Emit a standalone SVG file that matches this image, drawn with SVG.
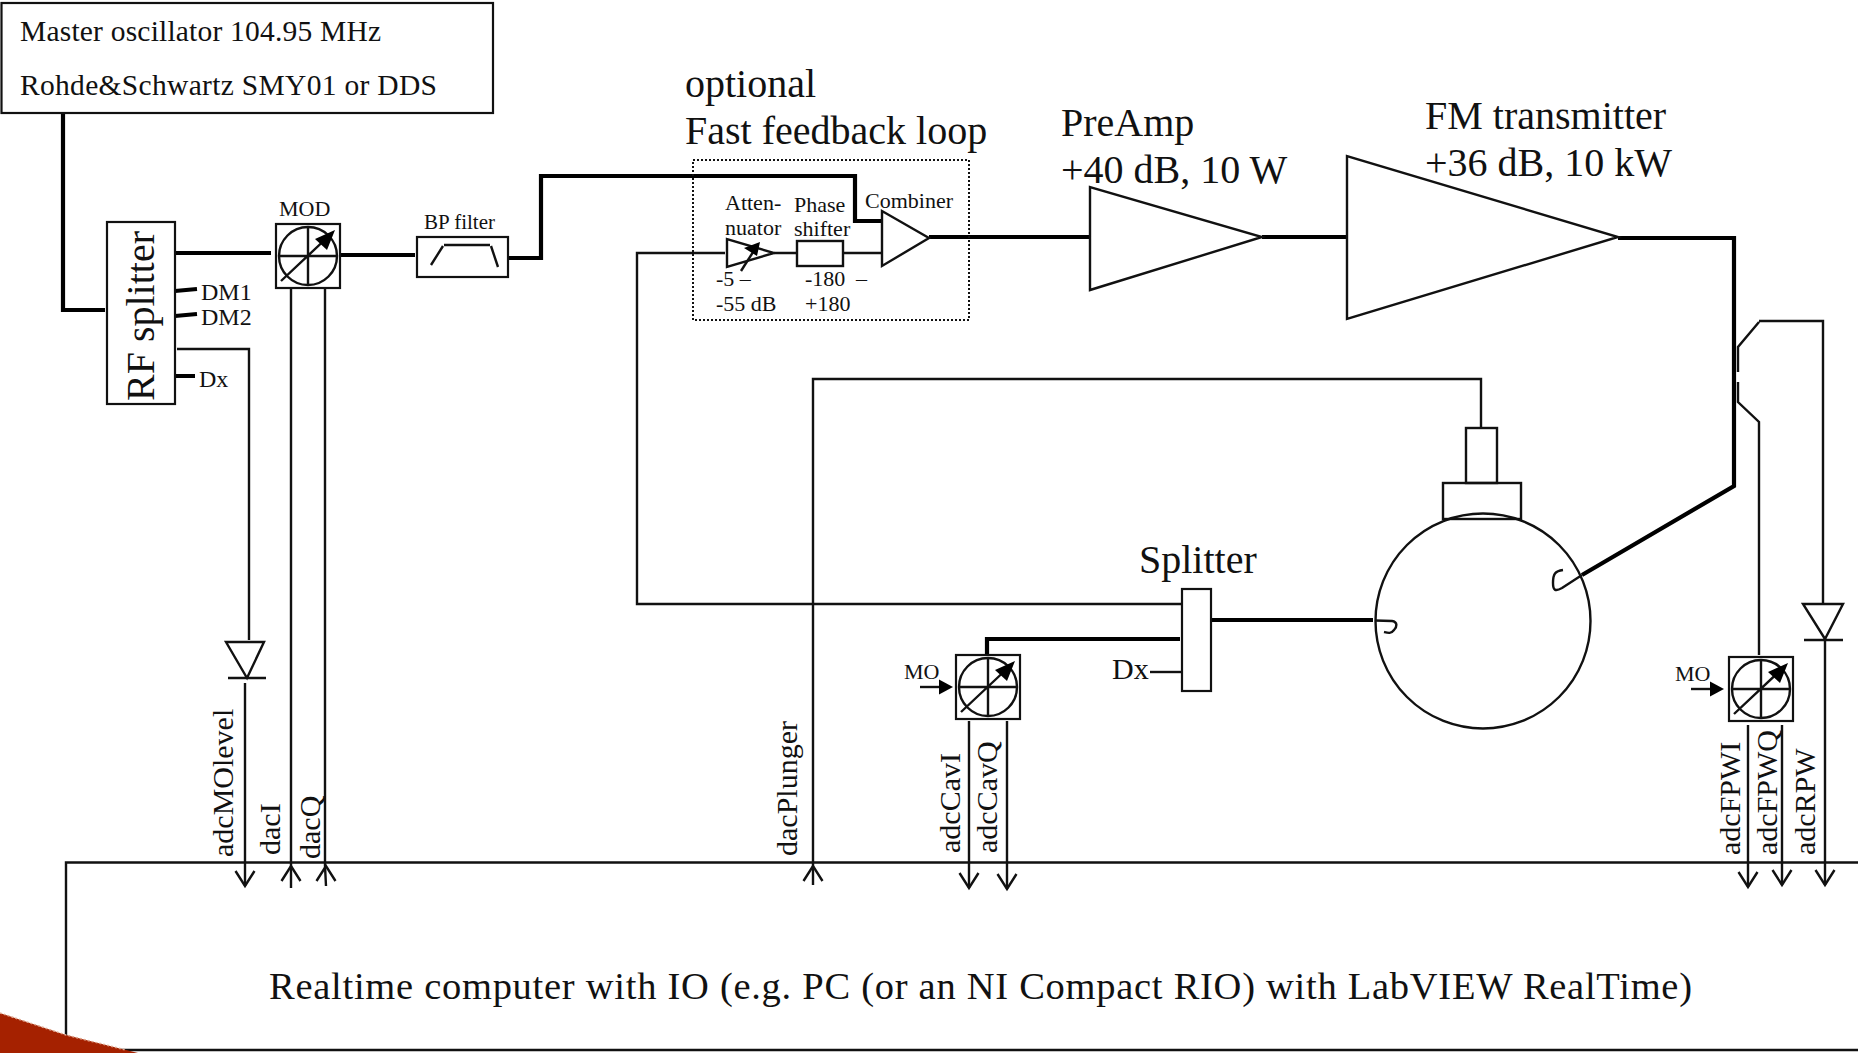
<svg xmlns="http://www.w3.org/2000/svg" width="1858" height="1053" viewBox="0 0 1858 1053">
<style>
text{font-family:"Liberation Serif","Times New Roman",serif;fill:#111}
.s{font-size:22px}.m{font-size:30px}.l{font-size:40px}.xs{font-size:21px}.n{font-size:22px}.d{font-size:24px}
.b{fill:#fff;stroke:#111;stroke-width:2.2}
.o{fill:none;stroke:#111;stroke-width:2.4;stroke-linejoin:miter}
.t{fill:none;stroke:#000;stroke-width:4.2;stroke-linejoin:miter}
.f{fill:#000;stroke:none}
</style>
<defs>
<path id="open" class="o" d="M-9.5 -15L0 0L9.5 -15"/>
<g id="mixer">
<rect class="b" x="-32" y="-32" width="64" height="64" stroke-width="2.6"/>
<circle class="o" r="29"/>
<path class="o" d="M-29 0H29M0 -29V29M-27 25L23 -22"/>
<path class="f" d="M27 -26L19 -6L7 -17Z"/>
</g>
<g id="moin">
<path class="o" d="M-33 0H-14"/>
<path class="f" d="M0 0L-14 -7.5V7.5Z"/>
<text class="s" x="-49" y="-8">MO</text>
</g>
</defs>

<g id="connectors">
<path class="t" d="M63 113V310H105"/>
<path class="t" d="M174 253H271"/>
<path class="t" d="M175 291L197 289M175 316L197 314M172 376H195"/>
<path class="t" d="M340 255H415"/>
<path class="t" d="M508 258H541V176H855V221H882"/>
<path class="t" d="M929 237H1090"/>
<path class="t" d="M1262 237H1347"/>
<path class="t" d="M1618 238H1734V486L1582 575"/>
<path class="t" d="M1211 620H1373"/>
<path class="t" d="M1180 639H987V654"/>
<path class="o" d="M177 349H249V640"/>
<path class="o" d="M245 683V886"/>
<path class="o" d="M291 289V888M325 289V866L326 886"/>
<path class="o" d="M725 253H637V604H1182"/>
<path class="o" d="M774 253H797M843 253H882"/>
<path class="o" d="M1150 672H1181"/>
<path class="o" d="M1481 428V379H813V885"/>
<path class="o" d="M969 721V888M1007 721V889"/>
<path class="o" d="M1759 321H1823V604M1759 322L1738 347V372M1738 382V402L1759 422V655"/>
<path class="o" d="M1825 640V885M1748 725V887M1782 725V885"/>
<path class="o" d="M1582 575L1562 588C1555 592 1553 590 1553 583C1553 574 1555 571 1563 570" stroke-width="2"/>
<path class="o" d="M1375 620.5L1392 621C1398 622 1397 627 1394 630C1391 634 1388 633 1384 632" stroke-width="2"/>
<use href="#open" transform="translate(245,886)"/>
<use href="#open" transform="translate(291,866) rotate(180)"/>
<use href="#open" transform="translate(326,866) rotate(180)"/>
<use href="#open" transform="translate(813,866) rotate(180)"/>
<use href="#open" transform="translate(969,888)"/>
<use href="#open" transform="translate(1007,889)"/>
<use href="#open" transform="translate(1748,887)"/>
<use href="#open" transform="translate(1782,885)"/>
<use href="#open" transform="translate(1825,885)"/>
</g>

<g id="computer">
<path class="o" d="M1858 862.5H66V1050H1858" stroke-width="2"/>
<text style="font-size:38.5px" x="269" y="999" textLength="1423" lengthAdjust="spacing">Realtime computer with IO (e.g. PC (or an NI Compact RIO) with LabVIEW RealTime)</text>
</g>

<g id="corner"><path d="M0 1013L66 1035L138 1053H0Z" fill="#a52100"/><path d="M0 1013L66 1035L126 1050" fill="none" stroke="#e0a890" stroke-width="1.5" stroke-dasharray="2 2"/></g>

<g id="master-oscillator">
<rect class="b" x="1.5" y="3" width="491.5" height="110"/>
<text style="font-size:29.5px" x="20" y="41" textLength="361" lengthAdjust="spacing">Master oscillator  104.95 MHz</text>
<text style="font-size:29.5px" x="20" y="95" textLength="417" lengthAdjust="spacing">Rohde&amp;Schwartz SMY01 or DDS</text>
</g>

<g id="rf-splitter">
<rect class="b" x="107" y="222" width="68" height="182"/>
<text class="l" transform="translate(154,401) rotate(-90)">RF splitter</text>
<text class="d" x="201" y="300">DM1</text>
<text class="d" x="201" y="325">DM2</text>
<text class="d" x="199" y="387">Dx</text>
</g>

<g id="mod">
<use href="#mixer" transform="translate(308,256)"/>
<text class="s" x="279" y="216">MOD</text>
</g>

<g id="bp-filter">
<rect class="b" x="417" y="237" width="91" height="40"/>
<path class="o" d="M431 265L443 246M444 245H490M491 246L498 267"/>
<text class="xs" x="424" y="229">BP filter</text>
</g>

<g id="fast-feedback">
<rect x="693" y="160" width="276" height="160" fill="none" stroke="#111" stroke-width="2" stroke-dasharray="2 2"/>
<text class="l" x="685" y="96.5">optional</text>
<text class="l" x="685" y="143.5">Fast feedback loop</text>
</g>

<g id="attenuator">
<path class="o" d="M727 239V267L774 253Z"/>
<path class="o" d="M741 271L755 249"/>
<path class="f" d="M760 242L757 256L744 248Z"/>
<text class="n" x="725" y="210">Atten-</text>
<text class="n" x="725" y="235">nuator</text>
<text class="n" x="716" y="286">-5 –</text>
<text class="n" x="716" y="311">-55 dB</text>
</g>

<g id="phase-shifter">
<rect class="o" x="797" y="241" width="46" height="25"/>
<text class="n" x="794" y="212">Phase</text>
<text class="n" x="794" y="236">shifter</text>
<text class="n" x="805" y="286">-180</text>
<text class="n" x="856" y="286">–</text>
<text class="n" x="805" y="311">+180</text>
</g>

<g id="combiner">
<path class="o" d="M882 211V266L929 238Z"/>
<text class="n" x="865" y="208">Combiner</text>
</g>

<g id="preamp">
<path class="o" d="M1090 187V290L1262 237Z" stroke-width="2"/>
<text class="l" x="1061" y="135.5">PreAmp</text>
<text class="l" x="1061" y="182.5">+40 dB, 10 W</text>
</g>

<g id="fm-transmitter">
<path class="o" d="M1347 156V319L1618 237Z" stroke-width="2"/>
<text class="l" x="1425" y="128.5">FM transmitter</text>
<text class="l" x="1425" y="175.5">+36 dB, 10 kW</text>
</g>

<g id="cavity">
<rect class="o" x="1466" y="428" width="31" height="55"/>
<rect class="o" x="1443" y="483" width="78" height="36"/>
<circle class="o" cx="1483" cy="621" r="107.5" stroke-width="2.2"/>
</g>

<g id="cavity-splitter">
<rect class="b" x="1182" y="589" width="29" height="102"/>
<text class="l" x="1139" y="573">Splitter</text>
<text class="m" x="1112" y="679">Dx</text>
</g>

<g id="cav-mixer">
<use href="#mixer" transform="translate(988,687)"/>
<use href="#moin" transform="translate(953,687)"/>
</g>

<g id="fpw-mixer">
<use href="#mixer" transform="translate(1761,689)"/>
<use href="#moin" transform="translate(1724,689)"/>
</g>

<g id="mo-detector">
<path class="o" d="M226 642H264L247 678ZM228 678H266"/>
</g>
<g id="rp-detector">
<path class="o" d="M1803 604H1843L1825 639ZM1804 640H1843"/>
</g>

<g id="signal-labels">
<text class="m" transform="translate(233,857) rotate(-90)">adcMOlevel</text>
<text class="m" transform="translate(280,855) rotate(-90)">dacI</text>
<text class="m" transform="translate(320,859) rotate(-90)">dacQ</text>
<text class="m" transform="translate(797,856) rotate(-90)">dacPlunger</text>
<text class="m" transform="translate(960,853) rotate(-90)">adcCavI</text>
<text class="m" transform="translate(997,853) rotate(-90)">adcCavQ</text>
<text class="m" transform="translate(1740,855) rotate(-90)">adcFPWI</text>
<text class="m" transform="translate(1777,855) rotate(-90)">adcFPWQ</text>
<text class="m" transform="translate(1815,855) rotate(-90)">adcRPW</text>
</g>
</svg>
